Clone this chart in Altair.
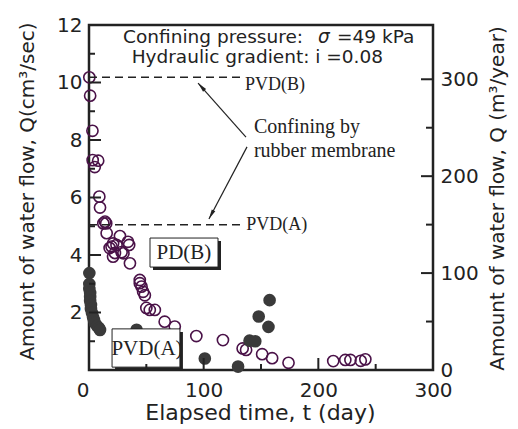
import math
import altair as alt
import pandas as pd

# ---------------- data ----------------
# PD(B): open circles (t in days, Q in cm3/sec)
pdb_t = [0.3, 1, 3, 3.2, 8, 5, 9, 9.6, 12.5, 14, 15, 15.4, 18, 19.7, 21, 21, 22.6, 24, 27,
         28.4, 30, 34, 35, 35.7, 44.3, 44.3, 45.8, 47.2, 48.7, 50, 53, 57.4, 66, 74.8, 93.6,
         116.8, 134, 137, 151, 159.7, 174, 213, 223.5, 228, 237, 241]
pdb_q = [10.18, 9.54, 8.32, 7.3, 7.28, 7.06, 6.03, 5.65, 5.1, 5.16, 5.1, 4.76, 4.24, 4.29, 4.4,
         3.94, 4.07, 4.35, 4.66, 4.1, 4.06, 4.46, 4.35, 3.71, 3.13, 3.02, 2.9, 2.72, 2.6, 2.16,
         2.09, 2.09, 1.68, 1.51, 1.18, 1.04, 0.75, 0.7, 0.55, 0.41, 0.25, 0.31, 0.35, 0.35,
         0.32, 0.37]
# PVD(A): filled circles
pva_t = [0.3, 0.3, 0.3, 1, 1, 1, 1.7, 1.7, 2.6, 3.5, 4.3, 5.2, 7, 8.7, 9.6, 41.5, 101, 130,
         140, 145, 148, 156.5, 157.5]
pva_q = [3.37, 2.99, 2.82, 2.68, 2.54, 2.4, 2.26, 2.12, 1.98, 1.84, 1.74, 1.63, 1.53, 1.46,
         1.39, 1.4, 0.4, 0.12, 1.02, 1.0, 1.86, 1.5, 2.43]

# axis ticks
x_labels = [0, 100, 200, 300]
x_major = [100, 200]
x_minor = [50, 150, 250]
yl_labels = [2, 4, 6, 8, 10, 12]
yl_major = [2, 4, 6, 8, 10]
yl_minor = [1, 3, 5, 7, 9, 11]
yr_labels = [0, 100, 200, 300]
yr_major = [100, 200, 300]
yr_minor = [50, 150, 250]

# reference dashed lines (initial flow of confined PVDs)
ref_y = [10.18, 5.05]
ref_x_end = [134.3, 136.0]
ref_labels = ["PVD(B)", "PVD(A)"]
ref_label_x = [136.0, 137.2]
ref_label_y = [9.9, 5.05]

# arrows
arrow_tail_x = [136.9, 137.8]
arrow_tail_y = [8.10, 7.76]
arrow_tip_x = [95.1, 104.6]
arrow_tip_y = [9.98, 5.25]

note_lines = ["Confining by", "rubber membrane"]
note_x = [143.8, 143.8]
note_y = [8.45, 7.62]

# boxed series labels
box_labels = ["PD(B)", "PVD(A)"]
box_x1 = [53.2, 20.1]
box_x2 = [112.5, 79.3]
box_y1 = [4.59, 1.43]
box_y2 = [3.58, 0.10]
box_tx = [82.8, 50.6]
box_ty = [4.07, 0.72]

# header text
head1_parts = ["Confining pressure:", "σ", "=49 kPa"]
head1_x = [29.7, 199.7, 216.3]
head1_y = 11.58
head2 = "Hydraulic gradient: i =0.08"
head2_x = 37.2
head2_y = 10.87

# ---------------- chart ----------------
W, H = 344, 345
XMAX, YMAX, YRMAX = 300, 12, 356
INK = "#222222"
PURPLE = "#4a1248"
DARK = "#3a3a3a"
SANS = "DejaVu Sans"
SERIF = "Liberation Serif"

def xs():
    return alt.Scale(domain=[0, XMAX], nice=False, zero=False)

def ys():
    return alt.Scale(domain=[0, YMAX], nice=False, zero=False)

def X(f="x", axis=None):
    return alt.X(f"{f}:Q", scale=xs(), axis=axis)

def Y(f="y", axis=None):
    return alt.Y(f"{f}:Q", scale=ys(), axis=axis)

x_axis = alt.Axis(values=x_labels, title="Elapsed time, t (day)", orient="bottom",
                  ticks=False, domain=False,
                  grid=False, labelFlush=False, labelOverlap=False, labelPadding=10,
                  labelAlign={"condition": {"test": "datum.value === 0", "value": "right"},
                              "value": "center"},
                  titleFontSize=22,
                  titleX=171, titleY=42, titleBaseline="middle", titleAnchor="middle")
y_axis = alt.Axis(values=yl_labels, title="Amount of water flow,  Q(cm³/sec)", orient="left",
                  ticks=False, domain=False, grid=False, labelFlush=False, labelOverlap=False,
                  labelPadding=7, titleX=-62, titleY=166, titleAngle=270,
                  titleAlign="center", titleBaseline="middle")
yr_axis = alt.Axis(values=yr_labels, title="Amount of water flow,  Q (m³/year)", orient="right",
                   ticks=False, domain=False, grid=False, labelFlush=False,
                   labelOverlap=False, labelPadding=7, titleX=64, titleY=173, titleAngle=270,
                   titleAlign="center", titleBaseline="middle")

pdb = alt.Chart(pd.DataFrame({"x": pdb_t, "y": pdb_q})).mark_point(
    shape="circle", filled=False, size=125, strokeWidth=1.6, color=PURPLE, opacity=1
).encode(x=X(axis=x_axis), y=Y(axis=y_axis))

pva = alt.Chart(pd.DataFrame({"x": pva_t, "y": pva_q})).mark_point(
    shape="circle", filled=True, size=160, color=DARK, opacity=1
).encode(x=X(), y=Y())

refs = alt.Chart(pd.DataFrame({"y": ref_y, "x": [0, 0], "x2": ref_x_end})).mark_rule(
    strokeDash=[8, 5], strokeWidth=1.5, color=INK
).encode(x=X(), x2="x2:Q", y=Y())

ref_text = alt.Chart(pd.DataFrame({"x": ref_label_x, "y": ref_label_y, "t": ref_labels})).mark_text(
    font=SERIF, fontSize=18, align="left", baseline="middle", color=INK
).encode(x=X(), y=Y(), text="t:N")

arrows = alt.Chart(pd.DataFrame({"x": arrow_tail_x, "y": arrow_tail_y,
                                 "x2": arrow_tip_x, "y2": arrow_tip_y})).mark_rule(
    strokeWidth=1.2, color=INK
).encode(x=X(), y=Y(), x2="x2:Q", y2="y2:Q")

px_x = W / XMAX
px_y = H / YMAX
heads = []
for tx, ty, hx, hy in zip(arrow_tail_x, arrow_tail_y, arrow_tip_x, arrow_tip_y):
    dx = (hx - tx) * px_x
    dy = -(hy - ty) * px_y
    ang = math.degrees(math.atan2(dx, -dy)) % 360
    heads.append(
        alt.Chart(pd.DataFrame({"x": [hx], "y": [hy]})).mark_point(
            shape="M0,0L0.45,2.2L-0.45,2.2Z", filled=True, size=80, angle=ang,
            color=INK, opacity=1
        ).encode(x=X(), y=Y())
    )

notes = alt.Chart(pd.DataFrame({"x": note_x, "y": note_y, "t": note_lines})).mark_text(
    font=SERIF, fontSize=20, align="left", baseline="middle", color=INK
).encode(x=X(), y=Y(), text="t:N")

box_df = pd.DataFrame({"x": box_x1, "x2": box_x2, "y": box_y1, "y2": box_y2})
box_shadow = alt.Chart(box_df).mark_rect(color=INK, xOffset=3, yOffset=3, x2Offset=3,
                                         y2Offset=3).encode(
    x=X(), x2="x2:Q", y=Y(), y2="y2:Q")
box_face = alt.Chart(box_df).mark_rect(fill="white", stroke=INK, strokeWidth=1).encode(
    x=X(), x2="x2:Q", y=Y(), y2="y2:Q")
box_text = alt.Chart(pd.DataFrame({"x": box_tx, "y": box_ty, "t": box_labels})).mark_text(
    font=SERIF, fontSize=21, align="center", baseline="middle", color=INK
).encode(x=X(), y=Y(), text="t:N")

head_a = alt.Chart(pd.DataFrame({"x": [head1_x[0], head1_x[2]], "y": [head1_y, head1_y],
                                 "t": [head1_parts[0], head1_parts[2]]})).mark_text(
    font=SANS, fontSize=18.5, align="left", baseline="middle", color=INK
).encode(x=X(), y=Y(), text="t:N")
head_sig = alt.Chart(pd.DataFrame({"x": [head1_x[1]], "y": [head1_y], "t": [head1_parts[1]]})).mark_text(
    font=SANS, fontSize=18.5, fontStyle="italic", align="left", baseline="middle", color=INK
).encode(x=X(), y=Y(), text="t:N")
head_b = alt.Chart(pd.DataFrame({"x": [head2_x], "y": [head2_y], "t": [head2]})).mark_text(
    font=SANS, fontSize=18.5, align="left", baseline="middle", color=INK
).encode(x=X(), y=Y(), text="t:N")

# inward ticks
xt_major = alt.Chart(pd.DataFrame({"x": x_major})).mark_rule(strokeWidth=2, color=INK).encode(
    x=X(), y=alt.value(H), y2=alt.value(H - 12))
xt_minor = alt.Chart(pd.DataFrame({"x": x_minor})).mark_rule(strokeWidth=2, color=INK).encode(
    x=X(), y=alt.value(H), y2=alt.value(H - 6))
ylt_major = alt.Chart(pd.DataFrame({"y": yl_major})).mark_rule(strokeWidth=2, color=INK).encode(
    y=Y(), x=alt.value(0), x2=alt.value(12))
ylt_minor = alt.Chart(pd.DataFrame({"y": yl_minor})).mark_rule(strokeWidth=2, color=INK).encode(
    y=Y(), x=alt.value(0), x2=alt.value(6))

def YR(axis=None):
    return alt.Y("y:Q", scale=alt.Scale(domain=[0, YRMAX], nice=False, zero=False), axis=axis)

yrt_major = alt.Chart(pd.DataFrame({"y": yr_major})).mark_rule(strokeWidth=2, color=INK).encode(
    y=YR(yr_axis), x=alt.value(W), x2=alt.value(W - 12))
yrt_minor = alt.Chart(pd.DataFrame({"y": yr_minor})).mark_rule(strokeWidth=2, color=INK).encode(
    y=YR(), x=alt.value(W), x2=alt.value(W - 7))

chart = alt.layer(
    pdb, pva, refs, ref_text, arrows, *heads, notes, box_shadow, box_face,
    box_text, head_a, head_sig, head_b, xt_major, xt_minor, ylt_major, ylt_minor,
    yrt_major, yrt_minor,
).resolve_scale(x="independent", y="independent").properties(
    width=W, height=H,
    autosize=alt.AutoSizeParams(type="none"),
    padding={"left": 81, "top": 17, "right": 77, "bottom": 55},
).configure_view(stroke=INK, strokeWidth=2.5).configure_axis(
    labelFont=SANS, labelFontSize=20, labelColor=INK,
    titleFont=SANS, titleFontSize=20, titleFontWeight="normal", titleColor=INK,
)

chart.save("out.html", embed_options={"renderer": "svg", "actions": False})
